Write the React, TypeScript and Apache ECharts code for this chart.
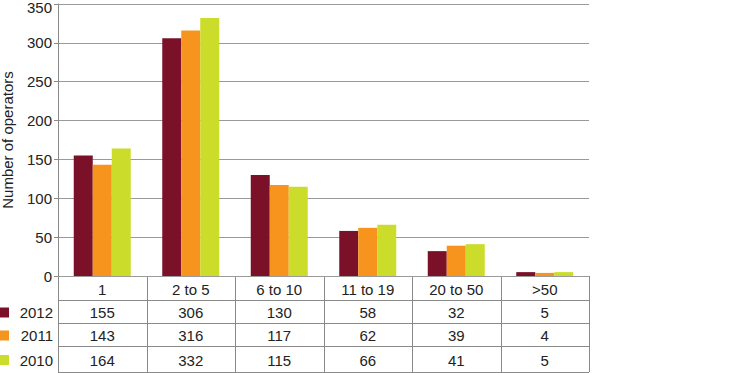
import React, { useEffect, useRef } from "react";
import * as echarts from "echarts";

const categories = ["1", "2 to 5", "6 to 10", "11 to 19", "20 to 50", ">50"];
const seriesNames = ["2012", "2011", "2010"];
const values2012 = [155, 306, 130, 58, 32, 5];
const values2011 = [143, 316, 117, 62, 39, 4];
const values2010 = [164, 332, 115, 66, 41, 5];
const colors = ["#7A1128", "#F7941D", "#CCDC2A"];
const yTicks = { min: 0, max: 350, interval: 50 };

export default function App() {
  const ref = useRef<HTMLDivElement>(null);
  useEffect(() => {
    if (!ref.current) return;
    const chart = echarts.init(ref.current, null, { renderer: "svg" });
    const left = 58;
    const right = 589;
    const top = 4;
    const bottom = 276;
    const colW = (right - left) / categories.length;
    const rowLines = [276, 300, 323, 346, 372];
    const font = "'Liberation Sans', Arial, Helvetica, sans-serif";
    const lineColor = "#8a8a8a";
    const allValues = [values2012, values2011, values2010];

    const graphics: any[] = [];
    rowLines.forEach((y) => {
      graphics.push({
        type: "line",
        shape: { x1: left, y1: y + 0.5, x2: right, y2: y + 0.5 },
        style: { stroke: lineColor, lineWidth: 1 },
        silent: true,
      });
    });
    for (let i = 0; i <= categories.length; i++) {
      const x = Math.round(left + i * colW) + 0.5;
      graphics.push({
        type: "line",
        shape: { x1: x, y1: rowLines[0], x2: x, y2: rowLines[rowLines.length - 1] },
        style: { stroke: lineColor, lineWidth: 1 },
        silent: true,
      });
    }
    const rowCenter = (r: number) => (rowLines[r] + rowLines[r + 1]) / 2 + 1;
    categories.forEach((c, i) => {
      graphics.push({
        type: "text",
        x: left + (i + 0.5) * colW,
        y: rowCenter(0),
        style: { text: c, font: `15px ${font}`, fill: "#222", align: "center", verticalAlign: "middle" },
      });
      allValues.forEach((vals, s) => {
        graphics.push({
          type: "text",
          x: left + (i + 0.5) * colW,
          y: rowCenter(s + 1),
          style: { text: String(vals[i]), font: `15px ${font}`, fill: "#222", align: "center", verticalAlign: "middle" },
        });
      });
    });
    seriesNames.forEach((n, s) => {
      const cy = rowCenter(s + 1);
      graphics.push({
        type: "rect",
        shape: { x: 0, y: cy - 5, width: 9, height: 10 },
        style: { fill: colors[s] },
      });
      graphics.push({
        type: "text",
        x: 53,
        y: cy,
        style: { text: n, font: `15px ${font}`, fill: "#222", align: "right", verticalAlign: "middle" },
      });
    });

    chart.setOption({
      animation: false,
      textStyle: { fontFamily: font },
      grid: {
        left,
        top,
        width: right - left,
        height: bottom - top,
        containLabel: false,
        outerBoundsMode: "none",
      },
      xAxis: {
        type: "category",
        data: categories,
        axisLine: { show: false },
        axisTick: { show: false },
        axisLabel: { show: false },
      },
      yAxis: {
        type: "value",
        min: yTicks.min,
        max: yTicks.max,
        interval: yTicks.interval,
        name: "Number of operators",
        nameLocation: "middle",
        nameGap: 43,
        nameTextStyle: { fontSize: 15, color: "#222", fontFamily: font },
        axisLine: { show: true, lineStyle: { color: lineColor } },
        axisTick: { show: true, length: 4, lineStyle: { color: lineColor } },
        axisLabel: {
          fontSize: 15,
          color: "#222",
          margin: 6,
          fontFamily: font,
          formatter: (v: number) => (v === yTicks.max ? `{top|${v}}` : `${v}`),
          rich: { top: { fontSize: 15, color: "#222", fontFamily: font, padding: [6, 0, 0, 0] } },
        },
        splitLine: { show: true, lineStyle: { color: "#9a9a9a", width: 1 } },
      },
      series: allValues.map((vals, s) => ({
        type: "bar",
        name: seriesNames[s],
        data: vals,
        barWidth: 19,
        barGap: "0%",
        itemStyle: { color: colors[s] },
      })),
      graphic: graphics,
    });
    return () => chart.dispose();
  }, []);
  return <div ref={ref} style={{ width: 745, height: 373, position: "absolute", left: 0, top: 0 }} />;
}
